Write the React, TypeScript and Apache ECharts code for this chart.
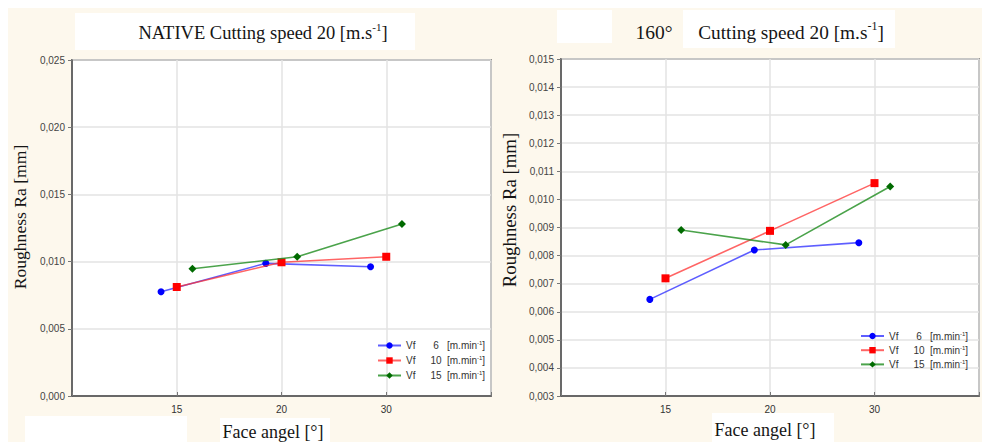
import React, { useEffect, useRef } from 'react';
import * as echarts from 'echarts';

// ---- data ----
const faceAngles = ['15', '20', '30'];
const feedRates = ['6', '10', '15'];
const seriesJitter = [-0.15, 0, 0.15];
const nativeRa6 = [0.00776, 0.00987, 0.00962];
const nativeRa10 = [0.00811, 0.00995, 0.01036];
const nativeRa15 = [0.00947, 0.01036, 0.0128];
const deg160Ra6 = [0.00644, 0.0082, 0.00846];
const deg160Ra10 = [0.00719, 0.00888, 0.01058];
const deg160Ra15 = [0.00891, 0.00838, 0.01046];
const nativeYRange = [0, 0.025, 0.005];
const deg160YRange = [0.003, 0.015, 0.001];

const SANS = 'Liberation Sans, Arial, sans-serif';
const SERIF = 'Liberation Serif, Times New Roman, serif';
const CREAM = '#fdf8ed';

const markerColors = ['#0000ff', '#ff0000', '#006a00'];
const lineColors = ['rgba(40,40,255,0.75)', 'rgba(255,50,50,0.75)', 'rgba(30,140,30,0.8)'];
const symbols = ['circle', 'rect', 'diamond'];
const symbolSizes = [7, 8, 8];

const fmtY = (v: number) => v.toFixed(3).replace('.', ',');
const fmtX = (v: number) =>
  Number.isInteger(v) && v >= 1 && v <= faceAngles.length ? faceAngles[v - 1] : '';

function makeSeries(gi: number, prefix: string, sets: number[][]) {
  return sets.map((vals, si) => ({
    type: 'line',
    name: prefix + feedRates[si],
    xAxisIndex: gi,
    yAxisIndex: gi,
    data: vals.map((v, i) => [i + 1 + seriesJitter[si], v]),
    symbol: symbols[si],
    symbolSize: symbolSizes[si],
    itemStyle: { color: markerColors[si] },
    lineStyle: { color: lineColors[si], width: 1.6 },
    z: 3 + si,
  }));
}

function xAxis(gi: number) {
  return {
    type: 'value',
    gridIndex: gi,
    min: 0,
    max: 4,
    interval: 1,
    axisLine: { show: true, lineStyle: { color: '#4a4a4a', width: 1.5 } },
    axisTick: { show: true, inside: true, length: 4, lineStyle: { color: '#777' } },
    axisLabel: { formatter: fmtX, fontFamily: SANS, fontSize: 10, color: '#333', margin: 8 },
    splitLine: { show: true, lineStyle: { color: '#e3e3e3', width: 1.5 } },
  };
}

function yAxis(gi: number, r: number[]) {
  return {
    type: 'value',
    gridIndex: gi,
    min: r[0],
    max: r[1],
    interval: r[2],
    axisLine: { show: true, lineStyle: { color: '#4a4a4a', width: 1.5 } },
    axisTick: { show: true, length: 4, lineStyle: { color: '#777' } },
    axisLabel: { formatter: fmtY, fontFamily: SANS, fontSize: 10, color: '#444', margin: 7 },
    splitLine: { show: true, lineStyle: { color: '#e3e3e3', width: 1.5 } },
  };
}

const legendRich = {
  a: { width: 22, fontFamily: SANS, fontSize: 10, color: '#333', lineHeight: 11 },
  n: { width: 16, align: 'right', fontFamily: SANS, fontSize: 10, color: '#333', lineHeight: 11 },
  b: { fontFamily: SANS, fontSize: 10, color: '#333', lineHeight: 11, padding: [0, 0, 0, 3] },
  c: { fontFamily: SANS, fontSize: 10, color: '#333', lineHeight: 11 },
  s: { fontFamily: SANS, fontSize: 6, color: '#333', verticalAlign: 'top', lineHeight: 8 },
};

function legend(prefix: string, left: number, top: number, gap: number) {
  return {
    orient: 'vertical',
    left,
    top,
    padding: 0,
    itemWidth: 23,
    itemHeight: 8,
    itemGap: gap,
    data: feedRates.map((r) => prefix + r),
    formatter: (name: string) => `{a|Vf}{n|${name.slice(1)}}{b|[m.min}{s|-1}{c|]}`,
    textStyle: { rich: legendRich },
    selectedMode: false,
  };
}

function titleRich(size: number) {
  return {
    t: { fontFamily: SERIF, fontSize: size, color: '#151515', lineHeight: size + 5 },
    s: { fontFamily: SERIF, fontSize: Math.round(size * 0.62), color: '#151515', verticalAlign: 'top', lineHeight: 12 },
  };
}

function rect(x: number, y: number, w: number, h: number, fill: string) {
  return { type: 'rect', shape: { x, y, width: w, height: h }, style: { fill }, silent: true, z: 0 };
}

function text(x: number, y: number, t: string, size: number, rotation = 0) {
  return {
    type: 'text',
    x,
    y,
    z: 1,
    rotation,
    style: { text: t, rich: titleRich(size), align: 'center', verticalAlign: 'middle', fill: '#151515' },
  };
}

export default function App() {
  const ref = useRef<HTMLDivElement>(null);
  useEffect(() => {
    if (!ref.current) return;
    const chart = echarts.init(ref.current, undefined, { renderer: 'svg' });
    chart.setOption({
      animation: false,
      backgroundColor: CREAM,
      grid: [
        { left: 72, top: 60, width: 419, height: 336, show: true, backgroundColor: '#fff', borderColor: '#4a4a4a', borderWidth: 1.5 },
        { left: 561, top: 59, width: 423, height: 337, show: true, backgroundColor: '#fff', borderColor: '#4a4a4a', borderWidth: 1.5 },
      ],
      xAxis: [xAxis(0), xAxis(1)],
      yAxis: [yAxis(0, nativeYRange), yAxis(1, deg160YRange)],
      legend: [legend('L', 377, 340, 4.5), legend('R', 860, 330.5, 3.7)],
      series: [
        ...makeSeries(0, 'L', [nativeRa6, nativeRa10, nativeRa15]),
        ...makeSeries(1, 'R', [deg160Ra6, deg160Ra10, deg160Ra15]),
      ],
      graphic: [
        rect(0, 0, 982, 8, '#fff'),
        rect(0, 0, 8, 442, '#fff'),
        rect(75, 13, 340, 37, '#fff'),
        rect(557, 10, 55, 33, '#fff'),
        rect(683, 10, 212, 38, '#fff'),
        rect(25, 416, 162, 26, '#fff'),
        rect(220, 418, 110, 24, '#fff'),
        rect(712, 413, 122, 29, '#fff'),
        text(263, 33, '{t|NATIVE Cutting speed 20 [m.s}{s|-1}{t|]}', 18.5),
        text(654, 32, '{t|160°}', 19.5),
        text(791, 32, '{t|Cutting speed 20 [m.s}{s|-1}{t|]}', 19.3),
        text(273, 432, '{t|Face angel [°]}', 18),
        text(765, 430, '{t|Face angel [°]}', 18),
        text(20, 217, '{t|Roughness Ra [mm]}', 17.6, Math.PI / 2),
        text(509, 210, '{t|Roughness Ra [mm]}', 18.8, Math.PI / 2),
      ],
    });
    return () => chart.dispose();
  }, []);
  return <div ref={ref} style={{ position: 'fixed', left: 0, top: 0, width: 982, height: 442 }} />;
}
